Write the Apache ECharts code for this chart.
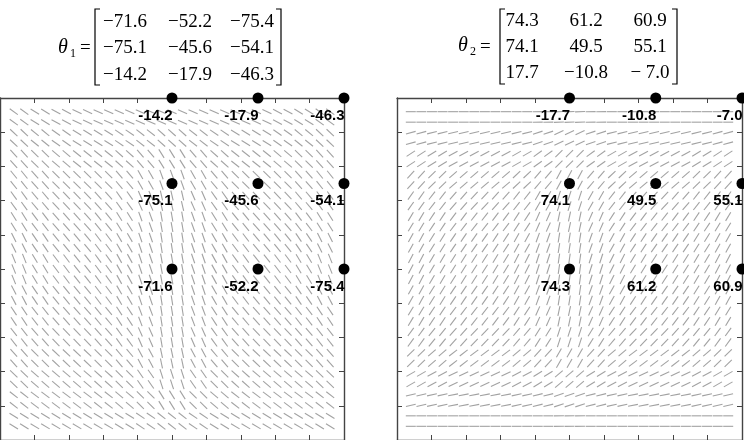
<!DOCTYPE html>
<html><head><meta charset="utf-8">
<script src="https://cdn.jsdelivr.net/npm/echarts@6/dist/echarts.min.js"></script>
<style>html,body{margin:0;padding:0;background:#fff}#c{width:744px;height:440px}</style>
</head><body><div id="c"></div>
<script>
// ---- data: control-point angles shown at the dots (rows: v = 0, 0.5, 1; cols: u = 0, 0.5, 1)
const theta1 = [[-71.6, -52.2, -75.4], [-75.1, -45.6, -54.1], [-14.2, -17.9, -46.3]];
const theta2 = [[74.3, 61.2, 60.9], [74.1, 49.5, 55.1], [-17.7, -10.8, -7.0]];
// matrices as printed above the panels
const matrix1 = [[-71.6, -52.2, -75.4], [-75.1, -45.6, -54.1], [-14.2, -17.9, -46.3]];
const matrix2 = [[74.3, 61.2, 60.9], [74.1, 49.5, 55.1], [17.7, -10.8, -7.0]];
const ctrlU = [0, 0.5, 1];
const ctrlV = [0, 0.5, 1];
const axisMin = -1, axisMax = 1, axisStep = 0.2;
// read positions of the orientation-field samples (u left->right, v top->bottom)
const readU = [-0.92, -0.797, -0.675, -0.552, -0.429, -0.307, -0.184, -0.061, 0.061, 0.184, 0.307, 0.429, 0.552, 0.675, 0.797, 0.92];
const readV = [0.92, 0.797, 0.675, 0.552, 0.429, 0.307, 0.184, 0.061, -0.061, -0.184, -0.307, -0.429, -0.552, -0.675, -0.797, -0.92];
// orientation angles (degrees), left panel
const field1 = [
[-36,-32,-28,-25,-24,-24,-24,-24,-24,-24,-24,-24,-25,-28,-32,-36],
[-43,-39,-35,-32,-32,-34,-38,-42,-42,-38,-34,-32,-32,-35,-39,-43],
[-47,-44,-40,-38,-38,-42,-50,-58,-58,-50,-42,-38,-38,-40,-44,-47],
[-51,-48,-45,-44,-45,-50,-60,-70,-70,-60,-50,-45,-44,-45,-48,-51],
[-54,-50,-47,-46,-48,-55,-66,-77,-77,-66,-55,-48,-46,-47,-50,-54],
[-58,-53,-49,-48,-51,-58,-70,-80,-80,-70,-58,-51,-48,-49,-53,-58],
[-63,-56,-51,-50,-53,-60,-71,-81,-81,-71,-60,-53,-50,-51,-56,-63],
[-68,-59,-53,-52,-54,-61,-71,-80,-80,-71,-61,-54,-52,-53,-59,-68],
[-68,-59,-53,-52,-54,-61,-71,-80,-80,-71,-61,-54,-52,-53,-59,-68],
[-62,-56,-51,-50,-53,-60,-71,-81,-81,-71,-60,-53,-50,-51,-56,-62],
[-56,-52,-49,-48,-50,-57,-69,-81,-81,-69,-57,-50,-48,-49,-52,-56],
[-52,-49,-46,-46,-48,-54,-66,-80,-80,-66,-54,-48,-46,-46,-49,-52],
[-48,-45,-43,-43,-45,-50,-62,-78,-78,-62,-50,-45,-43,-43,-45,-48],
[-43,-41,-40,-40,-42,-45,-55,-72,-72,-55,-45,-42,-40,-40,-41,-43],
[-38,-37,-37,-37,-38,-40,-45,-58,-58,-45,-40,-38,-37,-37,-37,-38],
[-32,-31,-31,-31,-31,-32,-34,-38,-38,-34,-32,-31,-31,-31,-31,-32]
];
// right panel
const field2 = [
[0,0,0,0,0,0,1,2,2,1,0,0,0,0,0,0],
[15,14,13,13,13,14,18,25,25,18,14,13,13,13,14,15],
[33,31,29,28,28,30,36,45,45,36,30,28,28,29,31,33],
[47,44,41,40,40,43,50,62,62,50,43,40,40,41,44,47],
[55,52,49,47,48,52,60,72,72,60,52,48,47,49,52,55],
[59,56,53,52,53,57,66,78,78,66,57,53,52,53,56,59],
[61,58,56,55,57,61,70,81,81,70,61,57,55,56,58,61],
[62,60,58,57,59,63,72,82,82,72,63,59,57,58,60,62],
[62,60,58,57,59,63,72,82,82,72,63,59,57,58,60,62],
[61,58,56,55,57,61,70,81,81,70,61,57,55,56,58,61],
[59,56,53,52,53,57,66,78,78,66,57,53,52,53,56,59],
[54,51,48,46,47,50,58,72,72,58,50,47,46,48,51,54],
[44,41,38,37,37,40,47,60,60,47,40,37,37,38,41,44],
[30,28,26,25,25,27,32,40,40,32,27,25,25,26,28,30],
[13,12,11,11,11,12,14,18,18,14,12,11,11,11,12,13],
[0,0,0,0,0,0,0,1,1,0,0,0,0,0,0,0]
];

// ---- build series data
const SEG = 31;
function pick(k) { return k < 15 ? Math.floor(k / 2) : Math.ceil(k / 2); }
function fieldData(field) {
  const out = [];
  const u0 = readU[0], u1 = readU[readU.length - 1];
  const v0 = readV[0], v1 = readV[readV.length - 1];
  for (let r = 0; r < SEG; r++) {
    const v = v0 + (v1 - v0) * r / (SEG - 1);
    const jr = pick(r);
    for (let c = 0; c < SEG; c++) {
      const u = u0 + (u1 - u0) * c / (SEG - 1);
      out.push([u, v, field[jr][pick(c)]]);
    }
  }
  return out;
}
function ctrlData(theta) {
  const out = [];
  for (let i = 0; i < 3; i++) for (let j = 0; j < 3; j++) out.push([ctrlU[j], ctrlV[i], theta[i][j]]);
  return out;
}
const SEGHALF = 5;
function renderSeg(params, api) {
  const c = api.coord([api.value(0), api.value(1)]);
  const a = api.value(2) * Math.PI / 180;
  const dx = SEGHALF * Math.cos(a), dy = -SEGHALF * Math.sin(a);
  return { type: 'line', shape: { x1: c[0] - dx, y1: c[1] - dy, x2: c[0] + dx, y2: c[1] + dy },
    style: { stroke: '#a2a2a2', lineWidth: 1.1 } };
}

const axColor = '#444';
function mkAxis(extra) {
  return Object.assign({ type: 'value', min: axisMin, max: axisMax, interval: axisStep,
    axisLine: { show: true, onZero: false, lineStyle: { color: axColor, width: 1.4 } },
    axisTick: { show: true, inside: true, length: 5, lineStyle: { color: axColor, width: 1 } },
    axisLabel: { show: false }, splitLine: { show: false } }, extra);
}

function scatterSeries(gi, theta) {
  return { type: 'scatter', xAxisIndex: gi * 2, yAxisIndex: gi * 2, data: ctrlData(theta),
    symbolSize: 11, itemStyle: { color: '#000', opacity: 1 }, clip: false, z: 5,
    emphasis: { disabled: true },
    label: { show: true, position: [6, 23], align: 'right', verticalAlign: 'middle',
      formatter: p => p.value[2].toFixed(1), color: '#000', opacity: 1,
      fontFamily: '"Liberation Sans", Arial, sans-serif', fontWeight: 'bold', fontSize: 15 } };
}

// ---- matrix text
function fmt(v) {
  if (v < 0) return '\u2212' + (Math.abs(v) < 10 ? ' ' : '') + Math.abs(v).toFixed(1);
  return v.toFixed(1);
}
const serif = '"Liberation Serif", "Times New Roman", serif';
function matrixGraphics(theta, sub, symX, colX, rowY, brL, brR, brTop, brBot) {
  const g = [];
  const mid = (rowY[0] + rowY[2]) / 2;
  g.push({ type: 'text', x: symX, y: mid - 1, style: { text: '\u03b8', font: 'italic 20px ' + serif, fill: '#000', align: 'left', verticalAlign: 'middle', textAlign: 'left', textVerticalAlign: 'middle' } });
  g.push({ type: 'text', x: symX + 12, y: mid + 5, style: { text: sub, font: '12px ' + serif, fill: '#000', align: 'left', verticalAlign: 'middle', textAlign: 'left', textVerticalAlign: 'middle' } });
  g.push({ type: 'text', x: symX + 22, y: mid, style: { text: '=', font: '19px ' + serif, fill: '#000', align: 'left', verticalAlign: 'middle', textAlign: 'left', textVerticalAlign: 'middle' } });
  for (let i = 0; i < 3; i++) for (let j = 0; j < 3; j++) {
    g.push({ type: 'text', x: colX[j], y: rowY[i], style: { text: fmt(theta[i][j]), font: '19px ' + serif, fill: '#000', align: 'center', verticalAlign: 'middle', textAlign: 'center', textVerticalAlign: 'middle' } });
  }
  g.push({ type: 'polyline', shape: { points: [[brL + 5, brTop], [brL, brTop], [brL, brBot], [brL + 5, brBot]] }, style: { stroke: '#000', lineWidth: 1.2, fill: null } });
  g.push({ type: 'polyline', shape: { points: [[brR - 5, brTop], [brR, brTop], [brR, brBot], [brR - 5, brBot]] }, style: { stroke: '#000', lineWidth: 1.2, fill: null } });
  return g;
}

const chart = echarts.init(document.getElementById('c'), null, { renderer: 'canvas' });
chart.setOption({
  animation: false,
  backgroundColor: '#fff',
  grid: [
    { left: -2, top: 98, width: 346, height: 344 },
    { left: 397, top: 98, width: 345, height: 344 }
  ],
  xAxis: [
    mkAxis({ gridIndex: 0, position: 'bottom' }), mkAxis({ gridIndex: 0, position: 'top' }),
    mkAxis({ gridIndex: 1, position: 'bottom' }), mkAxis({ gridIndex: 1, position: 'top' })
  ],
  yAxis: [
    mkAxis({ gridIndex: 0, position: 'left' }), mkAxis({ gridIndex: 0, position: 'right' }),
    mkAxis({ gridIndex: 1, position: 'left' }), mkAxis({ gridIndex: 1, position: 'right' })
  ],
  series: [
    { type: 'custom', xAxisIndex: 0, yAxisIndex: 0, data: fieldData(field1), renderItem: renderSeg, encode: { x: 0, y: 1 }, silent: true, z: 1 },
    { type: 'custom', xAxisIndex: 2, yAxisIndex: 2, data: fieldData(field2), renderItem: renderSeg, encode: { x: 0, y: 1 }, silent: true, z: 1 },
    scatterSeries(0, theta1),
    scatterSeries(1, theta2)
  ],
  graphic: [].concat(
    matrixGraphics(matrix1, '1', 58, [125, 190, 252], [22, 48, 75], 95, 281, 9, 85),
    matrixGraphics(matrix2, '2', 458, [522, 586, 650], [21, 47, 73], 500, 677, 9, 84)
  )
});
</script></body></html>
